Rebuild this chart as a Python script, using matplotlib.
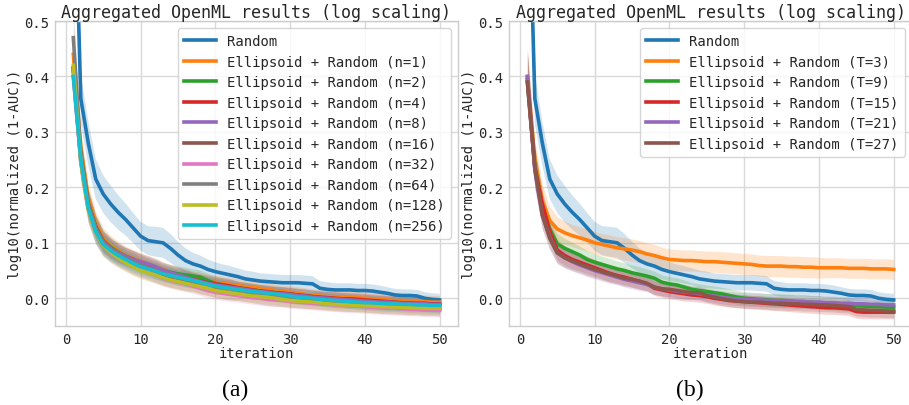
import numpy as np
import matplotlib
matplotlib.use("Agg")
import matplotlib.pyplot as plt

# iterations 1..50
iterations = list(range(1, 51))

random_mean = [0.85, 0.36, 0.28, 0.215, 0.188, 0.170, 0.155, 0.142, 0.127, 0.112,
               0.104, 0.102, 0.100, 0.090, 0.078, 0.068, 0.062, 0.058, 0.052, 0.048,
               0.045, 0.042, 0.039, 0.035, 0.033, 0.031, 0.030, 0.029, 0.028, 0.028,
               0.028, 0.027, 0.026, 0.018, 0.016, 0.015, 0.015, 0.015, 0.014, 0.014,
               0.013, 0.011, 0.009, 0.006, 0.005, 0.005, 0.004, 0.000, -0.002, -0.003]
random_hw = [0.06, 0.045, 0.04, 0.036, 0.034, 0.033, 0.031, 0.029, 0.027, 0.026,
             0.026, 0.027, 0.027, 0.026, 0.024, 0.022, 0.02, 0.019, 0.018, 0.017,
             0.016, 0.016, 0.015, 0.015, 0.015, 0.014, 0.014, 0.014, 0.014, 0.014,
             0.014, 0.014, 0.014, 0.013, 0.013, 0.012, 0.012, 0.012, 0.012, 0.012,
             0.012, 0.012, 0.011, 0.011, 0.011, 0.011, 0.011, 0.011, 0.011, 0.011]

# left panel: Ellipsoid + Random (n=...)
n_labels = ["1", "2", "4", "8", "16", "32", "64", "128", "256"]
n1 = [0.44, 0.27, 0.18, 0.135, 0.108, 0.095, 0.086, 0.078, 0.072, 0.067, 0.062, 0.057, 0.052, 0.047, 0.043, 0.039, 0.036, 0.034, 0.031, 0.029, 0.027, 0.025, 0.023, 0.021, 0.02, 0.018, 0.016, 0.014, 0.012, 0.011, 0.009, 0.007, 0.005, 0.004, 0.003, 0.003, 0.002, 0.001, 0.001, 0.0, -0.001, -0.002, -0.003, -0.004, -0.004, -0.005, -0.005, -0.006, -0.007, -0.007]
n2 = [0.41, 0.26, 0.172, 0.13, 0.104, 0.092, 0.083, 0.076, 0.07, 0.065, 0.06, 0.055, 0.05, 0.047, 0.044, 0.042, 0.04, 0.038, 0.032, 0.027, 0.024, 0.021, 0.019, 0.017, 0.015, 0.013, 0.011, 0.01, 0.009, 0.007, 0.006, 0.004, 0.003, 0.001, 0.0, -0.001, -0.002, -0.003, -0.004, -0.005, -0.006, -0.007, -0.008, -0.008, -0.009, -0.01, -0.01, -0.011, -0.012, -0.012]
n4 = [0.415, 0.255, 0.17, 0.128, 0.102, 0.09, 0.081, 0.075, 0.07, 0.064, 0.058, 0.053, 0.048, 0.044, 0.041, 0.037, 0.034, 0.031, 0.028, 0.026, 0.024, 0.022, 0.019, 0.017, 0.015, 0.013, 0.012, 0.01, 0.009, 0.008, 0.006, 0.005, 0.003, 0.002, 0.001, 0.0, -0.001, -0.001, -0.002, -0.003, -0.004, -0.005, -0.006, -0.007, -0.008, -0.008, -0.009, -0.009, -0.01, -0.01]
n8 = [0.40, 0.25, 0.168, 0.127, 0.102, 0.09, 0.082, 0.076, 0.07, 0.066, 0.062, 0.057, 0.051, 0.046, 0.042, 0.038, 0.034, 0.03, 0.027, 0.024, 0.022, 0.02, 0.018, 0.016, 0.014, 0.012, 0.011, 0.009, 0.008, 0.007, 0.005, 0.004, 0.002, 0.001, 0.0, -0.001, -0.002, -0.003, -0.004, -0.005, -0.006, -0.007, -0.007, -0.008, -0.009, -0.009, -0.01, -0.01, -0.011, -0.011]
n16 = [0.415, 0.25, 0.162, 0.12, 0.096, 0.084, 0.075, 0.067, 0.06, 0.054, 0.049, 0.044, 0.038, 0.034, 0.031, 0.028, 0.025, 0.021, 0.018, 0.015, 0.012, 0.01, 0.008, 0.006, 0.004, 0.001, -0.001, -0.002, -0.003, -0.004, -0.005, -0.006, -0.007, -0.008, -0.009, -0.01, -0.011, -0.012, -0.012, -0.013, -0.014, -0.015, -0.016, -0.016, -0.017, -0.018, -0.018, -0.019, -0.019, -0.02]
n32 = [0.41, 0.245, 0.16, 0.118, 0.094, 0.082, 0.073, 0.065, 0.058, 0.052, 0.047, 0.042, 0.036, 0.032, 0.029, 0.026, 0.022, 0.018, 0.014, 0.011, 0.009, 0.007, 0.005, 0.003, 0.001, 0.0, -0.002, -0.003, -0.004, -0.006, -0.007, -0.008, -0.009, -0.01, -0.011, -0.012, -0.013, -0.014, -0.014, -0.015, -0.016, -0.017, -0.018, -0.018, -0.019, -0.02, -0.02, -0.021, -0.021, -0.022]
n64 = [0.47, 0.26, 0.17, 0.126, 0.1, 0.088, 0.079, 0.072, 0.066, 0.06, 0.055, 0.05, 0.045, 0.041, 0.037, 0.034, 0.031, 0.027, 0.024, 0.021, 0.019, 0.017, 0.015, 0.013, 0.011, 0.009, 0.007, 0.006, 0.004, 0.003, 0.001, 0.0, -0.001, -0.002, -0.004, -0.005, -0.006, -0.007, -0.008, -0.009, -0.01, -0.011, -0.012, -0.012, -0.013, -0.014, -0.014, -0.015, -0.015, -0.016]
n128 = [0.42, 0.245, 0.16, 0.118, 0.095, 0.083, 0.073, 0.064, 0.057, 0.05, 0.046, 0.042, 0.037, 0.033, 0.03, 0.027, 0.024, 0.021, 0.018, 0.014, 0.012, 0.01, 0.008, 0.006, 0.004, 0.003, 0.002, 0.0, -0.002, -0.004, -0.005, -0.006, -0.007, -0.008, -0.01, -0.011, -0.012, -0.012, -0.013, -0.013, -0.014, -0.015, -0.015, -0.016, -0.016, -0.017, -0.017, -0.018, -0.018, -0.018]
n256 = [0.40, 0.25, 0.163, 0.12, 0.097, 0.086, 0.077, 0.07, 0.063, 0.057, 0.053, 0.049, 0.044, 0.041, 0.038, 0.035, 0.032, 0.029, 0.025, 0.022, 0.02, 0.018, 0.016, 0.014, 0.012, 0.011, 0.009, 0.008, 0.006, 0.004, 0.002, 0.001, 0.0, -0.002, -0.003, -0.004, -0.005, -0.006, -0.007, -0.008, -0.008, -0.009, -0.01, -0.01, -0.011, -0.011, -0.012, -0.012, -0.013, -0.013]
ell_hw = [0.05, 0.035, 0.025, 0.021, 0.019, 0.018, 0.017, 0.016, 0.016, 0.015,
          0.015, 0.015, 0.014, 0.014, 0.014, 0.014, 0.013, 0.013, 0.013, 0.013,
          0.013, 0.013, 0.012, 0.012, 0.012, 0.012, 0.012, 0.012, 0.012, 0.012,
          0.012, 0.012, 0.012, 0.012, 0.012, 0.012, 0.012, 0.012, 0.012, 0.012,
          0.012, 0.012, 0.012, 0.012, 0.012, 0.012, 0.012, 0.012, 0.012, 0.012]

# right panel: Ellipsoid + Random (T=...)
t_labels = ["3", "9", "15", "21", "27"]
t3 = [0.40, 0.25, 0.175, 0.14, 0.125, 0.118, 0.113, 0.109, 0.105, 0.1, 0.097, 0.094, 0.091, 0.089, 0.087, 0.084, 0.08, 0.077, 0.073, 0.07, 0.069, 0.068, 0.068, 0.067, 0.066, 0.066, 0.065, 0.064, 0.063, 0.062, 0.061, 0.059, 0.058, 0.058, 0.058, 0.057, 0.057, 0.056, 0.056, 0.055, 0.055, 0.055, 0.055, 0.054, 0.054, 0.054, 0.053, 0.053, 0.053, 0.052]
t9 = [0.39, 0.24, 0.165, 0.125, 0.098, 0.09, 0.084, 0.078, 0.07, 0.065, 0.061, 0.057, 0.053, 0.05, 0.046, 0.043, 0.04, 0.036, 0.029, 0.026, 0.024, 0.02, 0.016, 0.014, 0.012, 0.01, 0.008, 0.005, 0.002, 0.0, -0.001, -0.002, -0.003, -0.004, -0.004, -0.005, -0.006, -0.006, -0.007, -0.008, -0.009, -0.01, -0.011, -0.012, -0.013, -0.014, -0.015, -0.015, -0.016, -0.016]
t15 = [0.395, 0.235, 0.17, 0.12, 0.087, 0.077, 0.07, 0.065, 0.06, 0.055, 0.05, 0.045, 0.041, 0.038, 0.034, 0.03, 0.026, 0.018, 0.015, 0.012, 0.01, 0.008, 0.006, 0.005, 0.003, 0.0, -0.002, -0.004, -0.005, -0.006, -0.007, -0.008, -0.009, -0.01, -0.011, -0.012, -0.013, -0.014, -0.015, -0.016, -0.017, -0.017, -0.018, -0.019, -0.024, -0.025, -0.025, -0.025, -0.025, -0.025]
t21 = [0.40, 0.23, 0.15, 0.11, 0.082, 0.073, 0.066, 0.06, 0.055, 0.05, 0.046, 0.042, 0.038, 0.034, 0.031, 0.028, 0.025, 0.02, 0.017, 0.015, 0.013, 0.011, 0.01, 0.008, 0.006, 0.004, 0.002, 0.0, -0.001, -0.002, -0.003, -0.003, -0.004, -0.004, -0.005, -0.005, -0.006, -0.006, -0.007, -0.007, -0.008, -0.008, -0.009, -0.009, -0.01, -0.01, -0.011, -0.011, -0.012, -0.012]
t27 = [0.39, 0.235, 0.15, 0.108, 0.082, 0.073, 0.067, 0.062, 0.057, 0.052, 0.048, 0.044, 0.04, 0.036, 0.034, 0.031, 0.027, 0.02, 0.017, 0.016, 0.014, 0.012, 0.01, 0.01, 0.005, 0.002, -0.001, -0.003, -0.005, -0.006, -0.007, -0.007, -0.008, -0.009, -0.009, -0.01, -0.01, -0.011, -0.011, -0.012, -0.012, -0.013, -0.014, -0.015, -0.02, -0.021, -0.022, -0.022, -0.023, -0.023]
t3_hw = [0.05, 0.035, 0.03, 0.025, 0.022, 0.021, 0.02, 0.02, 0.02, 0.02,
         0.02, 0.02, 0.02, 0.02, 0.02, 0.02, 0.02, 0.02, 0.019, 0.019,
         0.019, 0.019, 0.019, 0.019, 0.019, 0.019, 0.019, 0.019, 0.019, 0.019,
         0.019, 0.019, 0.019, 0.019, 0.019, 0.019, 0.019, 0.019, 0.019, 0.019,
         0.018, 0.018, 0.018, 0.018, 0.018, 0.018, 0.018, 0.018, 0.018, 0.018]

colors = plt.rcParams['axes.prop_cycle'].by_key()['color']

plt.rcParams['font.family'] = 'DejaVu Sans Mono'
plt.rcParams['text.color'] = '0.15'
plt.rcParams['axes.labelcolor'] = '0.15'
plt.rcParams['xtick.color'] = '0.15'
plt.rcParams['ytick.color'] = '0.15'

fig = plt.figure(figsize=(9.09, 4.06), dpi=100)
ax1 = fig.add_axes([0.0605, 0.1946, 0.4433, 0.7512])
ax2 = fig.add_axes([0.560, 0.1946, 0.4433, 0.7512])


def draw_panel(ax, series, labels, bands):
    for (mean, hw), label, c in zip(zip(series, bands), labels, colors):
        mean = np.array(mean)
        hw = np.array(hw)
        ax.fill_between(iterations, mean - hw, mean + hw, color=c, alpha=0.2, lw=0)
        ax.plot(iterations, mean, color=c, lw=2.6, label=label)
    ax.set_ylim(-0.05, 0.5)
    ax.set_xticks([0, 10, 20, 30, 40, 50])
    ax.set_yticks([0.0, 0.1, 0.2, 0.3, 0.4, 0.5])
    ax.grid(True, color='#d9d9d9', lw=1.0)
    ax.set_axisbelow(True)
    for s in ax.spines.values():
        s.set_color('#cccccc')
        s.set_linewidth(1.0)
    ax.tick_params(length=0, pad=4, labelsize=10)
    ax.set_title("Aggregated OpenML results (log scaling)", fontsize=12, pad=3)
    ax.set_xlabel("iteration", fontsize=10, labelpad=0)
    ax.set_ylabel("log10(normalized (1-AUC))", fontsize=10, labelpad=2)
    leg = ax.legend(loc='upper right', fontsize=10, handlelength=2.3,
                    labelspacing=0.47, borderpad=0.45, framealpha=0.8)
    leg.get_frame().set_edgecolor('#cccccc')
    for line in leg.get_lines():
        line.set_linewidth(2.6)


left_series = [random_mean, n1, n2, n4, n8, n16, n32, n64, n128, n256]
left_labels = ["Random"] + ["Ellipsoid + Random (n=%s)" % n for n in n_labels]
left_bands = [random_hw, ell_hw, ell_hw, ell_hw, ell_hw, ell_hw, ell_hw, ell_hw, ell_hw, ell_hw]
draw_panel(ax1, left_series, left_labels, left_bands)

right_series = [random_mean, t3, t9, t15, t21, t27]
right_labels = ["Random"] + ["Ellipsoid + Random (T=%s)" % t for t in t_labels]
right_bands = [random_hw, t3_hw, ell_hw, ell_hw, ell_hw, ell_hw]
draw_panel(ax2, right_series, right_labels, right_bands)

fig.text(235 / 909, 1 - 390 / 406, "(a)", ha='center', va='center',
         family='Liberation Serif', fontsize=17, color='black')
fig.text(690 / 909, 1 - 390 / 406, "(b)", ha='center', va='center',
         family='Liberation Serif', fontsize=17, color='black')

fig.savefig("out.png", dpi=100)
